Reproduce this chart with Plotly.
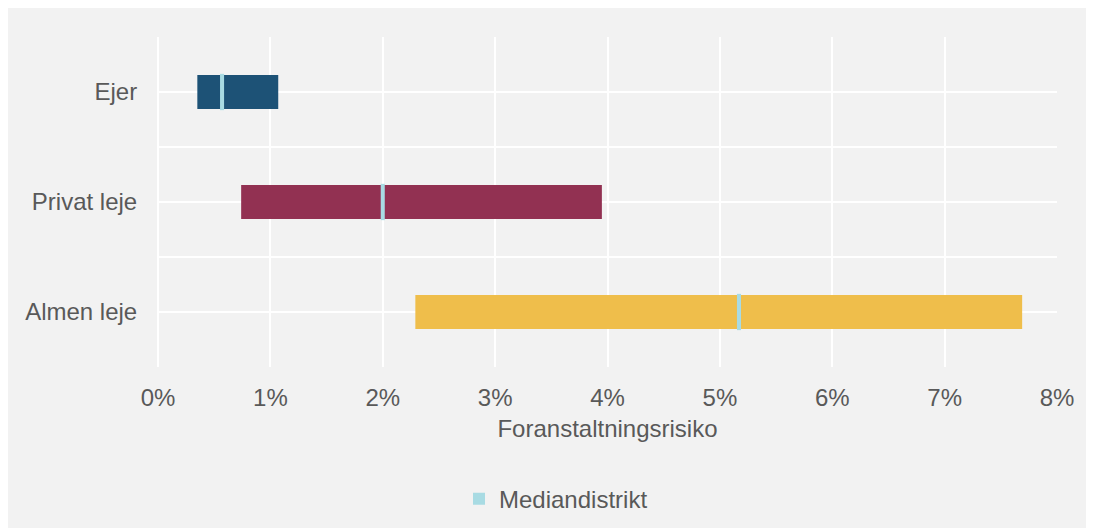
import plotly.graph_objects as go

# data (shares, 0.01 = 1%)
categories = ["Ejer", "Privat leje", "Almen leje"]
range_min = [0.0035, 0.0074, 0.0229]
range_max = [0.0107, 0.0395, 0.0769]
median = [0.0057, 0.0200, 0.0517]
bar_colors = ["#1d5276", "#923152", "#efbe4b"]

MED_COLOR = "#a8dbe3"
TXT = "#595959"
BG = "#f2f2f2"
FONT = "Liberation Sans, Arial, sans-serif"

ypos = list(range(len(categories)))

fig = go.Figure()

# floating range bars (min -> max)
fig.add_trace(go.Bar(
    y=ypos,
    x=[hi - lo for lo, hi in zip(range_min, range_max)],
    base=range_min,
    orientation="h",
    width=0.31,
    marker=dict(color=bar_colors, line=dict(width=0)),
    showlegend=False,
    hoverinfo="skip",
))

# median marker as a thin bar
med_w = 0.00036
fig.add_trace(go.Bar(
    y=ypos,
    x=[med_w] * len(median),
    base=[m - med_w / 2 for m in median],
    orientation="h",
    width=0.33,
    marker=dict(color=MED_COLOR, line=dict(width=0)),
    name="Mediandistrikt",
    showlegend=True,
))

fig.update_layout(
    width=1094, height=528,
    margin=dict(l=150, r=45, t=29, b=169),
    paper_bgcolor=BG,
    plot_bgcolor=BG,
    barmode="overlay",
    font=dict(family=FONT, size=24, color=TXT),
    legend=dict(orientation="h", xref="paper", yref="container",
                x=(556 - 158) / 899, y=0.07, xanchor="center", yanchor="middle",
                bgcolor="rgba(0,0,0,0)", font=dict(size=24, color=TXT)),
)

fig.update_xaxes(
    range=[0, 0.08], dtick=0.01, tick0=0, tickformat=".0%",
    showgrid=True, gridcolor="white", gridwidth=2,
    zeroline=True, zerolinecolor="white", zerolinewidth=2,
    showline=False, ticks="outside", ticklen=9, tickcolor="rgba(0,0,0,0)",
    title=dict(text="Foranstaltningsrisiko", standoff=10,
               font=dict(size=24, color=TXT)),
    fixedrange=True,
)

fig.update_yaxes(
    range=[2.5, -0.5], tickvals=ypos, ticktext=categories,
    showgrid=True, gridcolor="white", gridwidth=2,
    minor=dict(tick0=0.5, dtick=1, showgrid=True, gridcolor="white", gridwidth=2),
    zeroline=False, showline=False,
    ticks="outside", ticklen=15, tickcolor="rgba(0,0,0,0)",
    fixedrange=True,
)

fig.write_html("out.html")
